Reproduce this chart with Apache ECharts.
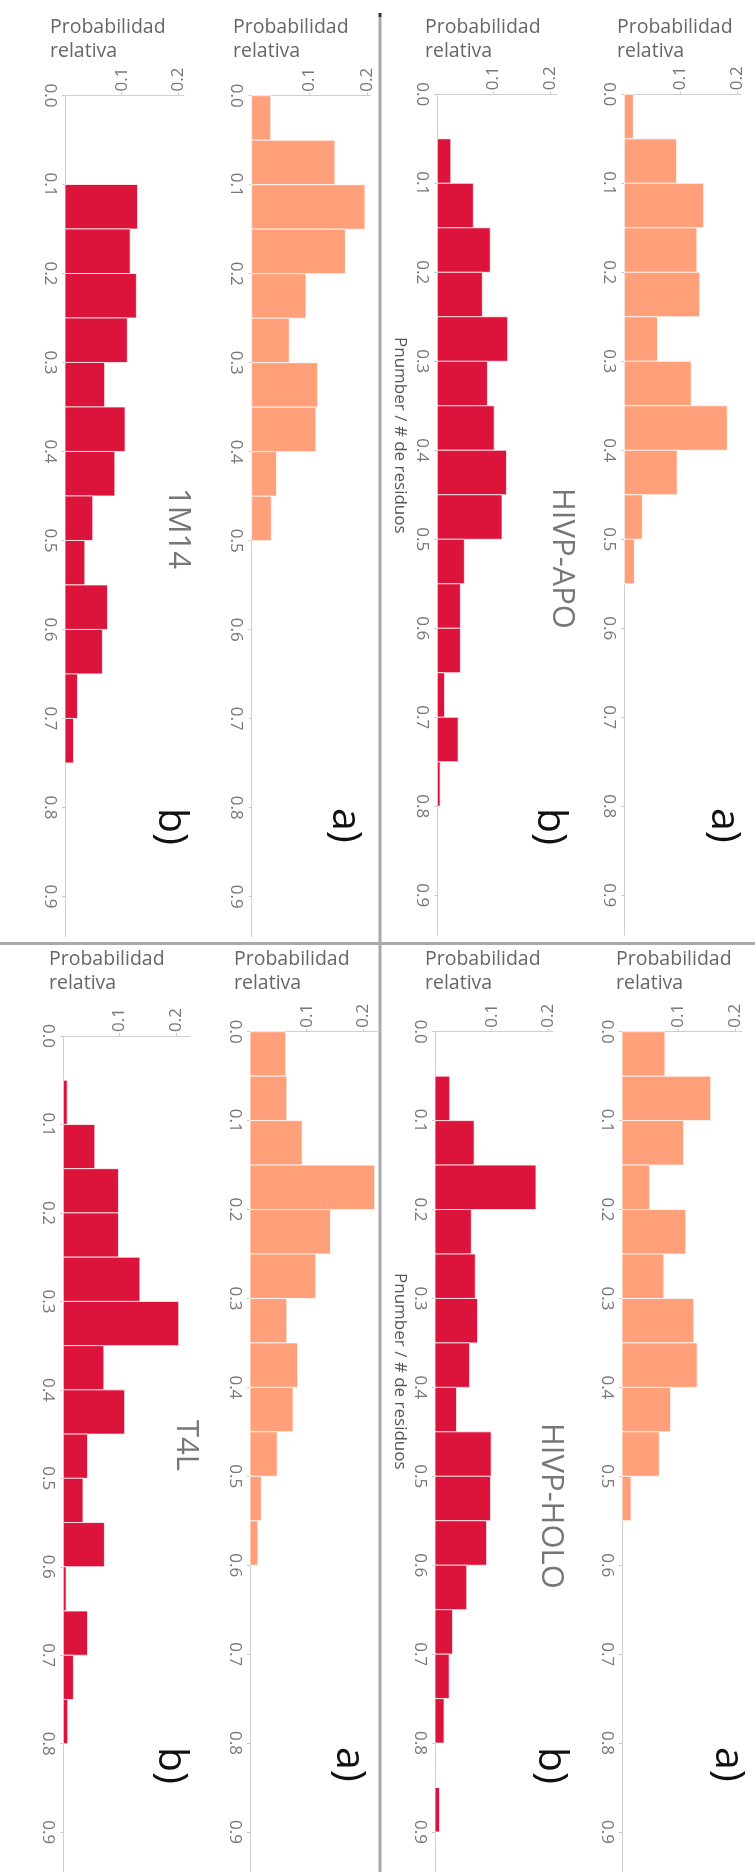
<!DOCTYPE html>
<html><head><meta charset="utf-8">
<script src="https://cdn.jsdelivr.net/npm/echarts@6/dist/echarts.min.js"></script>
<style>html,body{margin:0;padding:0;background:#fff}#c{width:755px;height:1872px}</style>
</head><body><div id="c"></div>
<script>
// ---- data ----
const binEdges = [0, 0.05, 0.1, 0.15, 0.2, 0.25, 0.3, 0.35, 0.4, 0.45, 0.5, 0.55, 0.6, 0.65, 0.7, 0.75, 0.8, 0.85, 0.9, 0.95];
const pnTicks = [0, 0.1, 0.2, 0.3, 0.4, 0.5, 0.6, 0.7, 0.8, 0.9];
const pnTickLabels = ['0.0', '0.1', '0.2', '0.3', '0.4', '0.5', '0.6', '0.7', '0.8', '0.9'];
const probTicks = [0.1, 0.2];
const probTickLabels = ['0.1', '0.2'];

const m14B  = [0, 0, 0.128, 0.115, 0.126, 0.110, 0.070, 0.106, 0.088, 0.049, 0.035, 0.075, 0.066, 0.022, 0.015, 0, 0, 0, 0];
const m14A  = [0.033, 0.144, 0.196, 0.162, 0.094, 0.065, 0.114, 0.111, 0.043, 0.034, 0, 0, 0, 0, 0, 0, 0, 0, 0];
const apoB  = [0, 0.024, 0.064, 0.094, 0.080, 0.125, 0.089, 0.101, 0.123, 0.115, 0.048, 0.041, 0.041, 0.013, 0.037, 0.005, 0, 0, 0];
const apoA  = [0.016, 0.093, 0.141, 0.129, 0.134, 0.059, 0.119, 0.183, 0.094, 0.032, 0.018, 0, 0, 0, 0, 0, 0, 0, 0];
const t4lB  = [0, 0.007, 0.056, 0.098, 0.098, 0.136, 0.205, 0.072, 0.109, 0.043, 0.035, 0.073, 0.005, 0.043, 0.018, 0.008, 0, 0, 0];
const t4lA  = [0.063, 0.065, 0.092, 0.220, 0.142, 0.116, 0.065, 0.084, 0.076, 0.048, 0.020, 0.014, 0, 0, 0, 0, 0, 0, 0];
const holoB = [0, 0.026, 0.069, 0.178, 0.064, 0.071, 0.075, 0.061, 0.038, 0.099, 0.098, 0.091, 0.056, 0.031, 0.025, 0.016, 0, 0.008, 0];
const holoA = [0.076, 0.157, 0.109, 0.049, 0.113, 0.074, 0.127, 0.133, 0.086, 0.066, 0.016, 0, 0, 0, 0, 0, 0, 0, 0];

const headerLines = ['Probabilidad', 'relativa'];
const axisNameText = 'Pnumber / # de residuos';
const proteinNames = ['1M14', 'HIVP-APO', 'T4L', 'HIVP-HOLO'];
const tagA = 'a)', tagB = 'b)';

// ---- layout / style ----
const RED = '#DC143C', SALMON = '#FFA07A';
const FONT = "'Open Sans', 'DejaVu Sans', sans-serif";
const panels = [
  {values: m14B,  color: RED,    left: 65,    top: 95.5,   width: 119,   xMax: 0.21,  height: 841, yMax: 0.945},
  {values: m14A,  color: SALMON, left: 251.7, top: 95.7,   width: 118.5, xMax: 0.205, height: 841, yMax: 0.945},
  {values: apoB,  color: RED,    left: 437.3, top: 94.3,   width: 119.4, xMax: 0.212, height: 841, yMax: 0.945},
  {values: apoA,  color: SALMON, left: 624.3, top: 94.3,   width: 117,   xMax: 0.208, height: 841, yMax: 0.945},
  {values: t4lB,  color: RED,    left: 63.3,  top: 1036,   width: 126.7, xMax: 0.225, height: 837, yMax: 0.945},
  {values: t4lA,  color: SALMON, left: 250,   top: 1031.7, width: 127,   xMax: 0.224, height: 841, yMax: 0.945},
  {values: holoB, color: RED,    left: 435,   top: 1031.7, width: 118,   xMax: 0.208, height: 841, yMax: 0.945},
  {values: holoA, color: SALMON, left: 622,   top: 1031.7, width: 119.8, xMax: 0.212, height: 841, yMax: 0.945}
];
const headerPos = [[50, 37], [233, 37], [425, 37], [617, 37], [49, 969], [234, 969], [425, 969], [616, 969]];
const titlePos = [[178, 488], [562, 488], [186, 1420], [551, 1423]];
const tagPos = [
  [tagB, 171, 808], [tagA, 345, 808], [tagB, 550, 808], [tagA, 724, 808],
  [tagB, 171, 1747], [tagA, 349, 1747], [tagB, 551, 1747], [tagA, 728, 1747]
];
const axisNamePos = [[400, 337], [400, 1273]];

function lookup(ticks, labels, v) {
  const i = ticks.findIndex(t => Math.abs(t - v) < 1e-9);
  return i >= 0 ? labels[i] : '';
}

const grids = [], xAxes = [], yAxes = [], series = [];
panels.forEach((p, i) => {
  grids.push({left: p.left, top: p.top, width: p.width, height: p.height});
  xAxes.push({
    gridIndex: i, type: 'value', position: 'top', min: 0, max: p.xMax,
    axisLine: {show: true, onZero: false, lineStyle: {color: '#d0d0d0', width: 1}},
    axisTick: {show: true, length: 3, customValues: probTicks, lineStyle: {color: '#c8c8c8'}},
    axisLabel: {show: true, customValues: probTicks, rotate: -90, margin: 4, fontSize: 17,
      color: '#777', fontFamily: FONT, formatter: v => lookup(probTicks, probTickLabels, v)},
    splitLine: {show: false}
  });
  yAxes.push({
    gridIndex: i, type: 'value', inverse: true, min: 0, max: p.yMax,
    axisLine: {show: true, onZero: false, lineStyle: {color: '#d0d0d0', width: 1}},
    axisTick: {show: true, length: 3, customValues: pnTicks, lineStyle: {color: '#c8c8c8'}},
    axisLabel: {show: true, customValues: pnTicks, rotate: -90, margin: 7, fontSize: 17,
      color: '#777', fontFamily: FONT, formatter: v => lookup(pnTicks, pnTickLabels, v)},
    splitLine: {show: false}
  });
  const data = [];
  p.values.forEach((v, k) => { if (v > 0) data.push([binEdges[k], binEdges[k + 1], v]); });
  series.push({
    type: 'custom', xAxisIndex: i, yAxisIndex: i, data: data,
    encode: {x: 2, y: [0, 1]},
    renderItem: (params, api) => {
      const a = api.coord([0, api.value(0)]);
      const b = api.coord([api.value(2), api.value(1)]);
      return {type: 'rect',
        shape: {x: a[0], y: a[1], width: b[0] - a[0], height: b[1] - a[1]},
        style: {fill: p.color, stroke: 'rgba(255,255,255,0.75)', lineWidth: 1}};
    }
  });
});

const graphics = [];
// separators
graphics.push({type: 'rect', shape: {x: 378.5, y: 17, width: 3, height: 1855}, style: {fill: '#a9a9a9'}, silent: true});
graphics.push({type: 'rect', shape: {x: 378.5, y: 13, width: 3, height: 4}, style: {fill: '#333'}, silent: true});
graphics.push({type: 'rect', shape: {x: 0, y: 942, width: 755, height: 3}, style: {fill: '#a9a9a9'}, silent: true});
// headers
headerPos.forEach(([x, y]) => {
  headerLines.forEach((t, j) => {
    graphics.push({type: 'text', x: x, y: y + j * 24, style: {text: t, fill: '#666',
      font: "19.5px 'Open Sans', sans-serif", align: 'left', verticalAlign: 'bottom'}});
  });
});
// protein titles (rotated clockwise)
titlePos.forEach(([x, y], i) => {
  graphics.push({type: 'text', x: x, y: y, rotation: -Math.PI / 2, style: {text: proteinNames[i], fill: '#777',
    font: "31px 'Open Sans', sans-serif", align: 'left', verticalAlign: 'middle'}});
});
// a) / b) tags
tagPos.forEach(([t, x, y]) => {
  graphics.push({type: 'text', x: x, y: y, rotation: -Math.PI / 2, style: {text: t, fill: '#111',
    font: "41px 'Open Sans', sans-serif", align: 'left', verticalAlign: 'middle'}});
});
// axis names
axisNamePos.forEach(([x, y]) => {
  graphics.push({type: 'text', x: x, y: y, rotation: -Math.PI / 2, style: {text: axisNameText, fill: '#555',
    font: "17px 'Open Sans', sans-serif", align: 'left', verticalAlign: 'middle'}});
});

const chart = echarts.init(document.getElementById('c'), null, {renderer: 'canvas', width: 755, height: 1872});
chart.setOption({
  animation: false,
  backgroundColor: '#fff',
  grid: grids, xAxis: xAxes, yAxis: yAxes, series: series,
  graphic: graphics
});
</script></body></html>
